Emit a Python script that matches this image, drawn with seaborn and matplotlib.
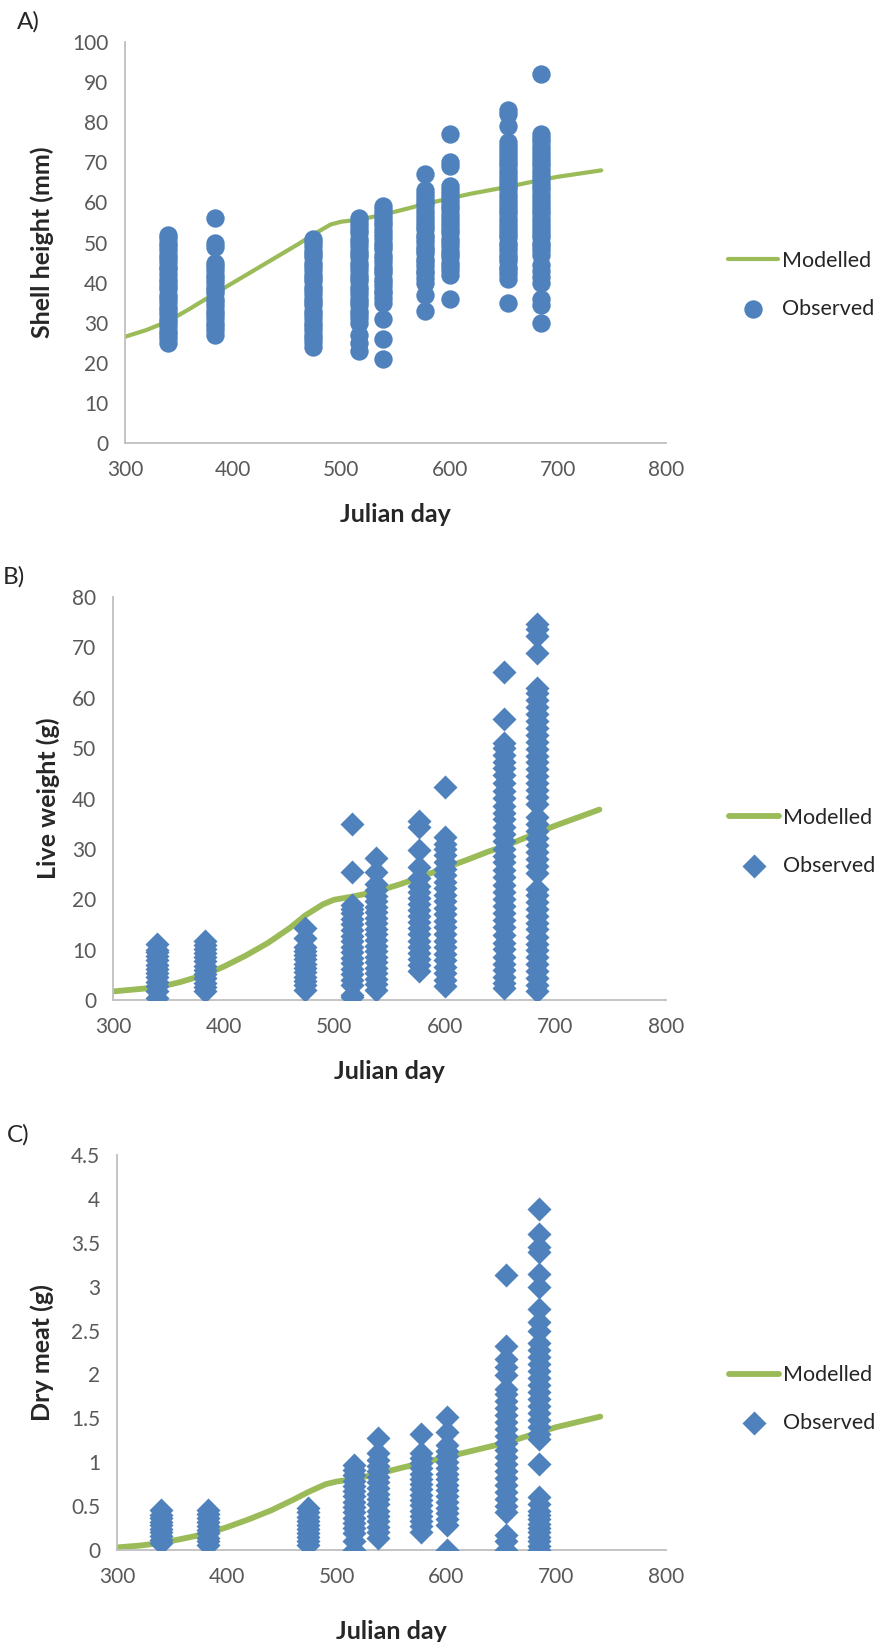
import numpy as np
import pandas as pd
import matplotlib
matplotlib.use('Agg')
import matplotlib.pyplot as plt
import seaborn as sns

sns.set_style('white')
plt.rcParams['font.family'] = ['Lato', 'DejaVu Sans']

BLUE = '#4F81BD'
GREEN = '#9BBB59'
GREY_TXT = '#595959'
GREY_AX = '#BFBFBF'

# modelled curves (Julian day -> value)
model_days = [300, 320, 340, 360, 383, 400, 420, 440, 460, 474, 490, 500, 516, 538,
              560, 577, 600, 620, 640, 654, 684, 700, 720, 740]
shell_model = [26.5, 28.2, 30.4, 33.5, 37.3, 40.0, 43.2, 46.4, 49.6, 52.0, 54.5, 55.2,
               55.7, 56.9, 58.4, 59.6, 61.0, 62.2, 63.2, 63.9, 65.6, 66.4, 67.2, 68.0]
live_model = [1.7, 2.1, 2.5, 3.5, 5.0, 6.6, 8.8, 11.3, 14.3, 16.8, 19.0, 19.9,
              20.5, 21.5, 23.0, 24.3, 26.2, 27.8, 29.5, 30.5, 33.2, 34.6, 36.2, 37.8]
dry_model = [0.03, 0.05, 0.08, 0.13, 0.19, 0.26, 0.35, 0.45, 0.57, 0.66, 0.75, 0.78,
             0.81, 0.87, 0.94, 0.99, 1.06, 1.12, 1.18, 1.22, 1.34, 1.40, 1.46, 1.52]

# observed values per sampling day
shell_obs = {
    340: [25.0, 26.1, 27.3, 28.0, 29.2, 30.1, 31.0, 32.2, 33.1, 34.0, 35.2, 36.1, 37.0, 38.3,
          39.1, 40.2, 41.0, 42.1, 43.3, 44.0, 45.2, 46.1, 47.0, 48.2, 49.1, 50.0, 51.2, 52.0],
    383: [27.0, 28.1, 29.3, 30.0, 31.2, 32.1, 33.0, 34.2, 35.1, 36.0, 37.3, 38.1, 39.0, 40.2,
          41.1, 42.0, 43.2, 44.1, 45.0, 49.0, 50.0, 56.0],
    474: [24.0, 25.1, 26.2, 27.0, 28.3, 29.1, 30.0, 31.2, 32.1, 33.0, 34.3, 35.1, 36.0, 37.2,
          38.1, 39.0, 40.3, 41.1, 42.0, 43.2, 44.1, 45.0, 46.3, 47.1, 48.0, 49.2, 50.1, 51.0],
    516: [23.0, 25.0, 27.0, 30.0, 31.2, 32.1, 33.0, 34.3, 35.1, 36.0, 37.2, 38.1, 39.0, 40.3,
          41.1, 42.0, 43.2, 44.1, 45.0, 46.3, 47.1, 48.0, 49.2, 50.1, 51.0, 52.3, 53.1, 54.0,
          55.2, 56.0],
    538: [21.0, 26.0, 31.0, 35.0, 36.1, 37.3, 38.0, 39.2, 40.1, 41.0, 42.3, 43.1, 44.0, 45.2,
          46.1, 47.0, 48.3, 49.1, 50.0, 51.2, 52.1, 53.0, 54.3, 55.1, 56.0, 57.2, 58.1, 59.0],
    577: [33.0, 37.0, 40.0, 41.1, 42.3, 43.0, 44.2, 45.1, 46.0, 47.3, 48.1, 49.0, 50.2, 51.1,
          52.0, 53.3, 54.1, 55.0, 56.2, 57.1, 58.0, 59.3, 60.1, 61.0, 62.2, 63.0, 67.0],
    600: [36.0, 42.0, 43.2, 44.1, 45.0, 46.3, 47.1, 48.0, 49.2, 50.1, 51.0, 52.3, 53.1, 54.0,
          55.2, 56.1, 57.0, 58.3, 59.1, 60.0, 61.2, 62.1, 63.0, 64.0, 69.0, 70.0, 77.0],
    654: [35.0, 41.0, 42.2, 43.1, 44.0, 45.3, 46.1, 47.0, 48.2, 49.1, 50.0, 51.3, 52.1, 53.0,
          54.2, 55.1, 56.0, 57.3, 58.1, 59.0, 60.2, 61.1, 62.0, 63.3, 64.1, 65.0, 66.2, 67.1,
          68.0, 69.3, 70.1, 71.0, 72.2, 73.1, 74.0, 75.0, 79.0, 82.0, 83.0],
    684: [30.0, 34.5, 36.0, 40.0, 41.5, 43.0, 44.5, 47.0, 48.2, 49.1, 50.0, 51.3, 52.1, 53.0,
          54.2, 55.1, 56.0, 57.3, 58.1, 59.0, 60.2, 61.1, 62.0, 63.3, 64.1, 65.0, 66.2, 67.1,
          68.0, 69.3, 70.1, 71.0, 72.2, 73.1, 74.0, 75.3, 76.1, 77.0, 92.0],
}

live_obs = {
    340: [0.3, 1.7, 2.8, 3.6, 4.5, 5.3, 6.2, 7.0, 7.9, 8.8, 9.6, 10.0, 11.2],
    383: [1.7, 2.5, 3.4, 4.3, 5.1, 6.0, 6.8, 7.7, 8.5, 9.4, 10.2, 11.0, 11.7],
    474: [2.0, 2.9, 3.8, 4.6, 5.5, 6.4, 7.2, 8.1, 9.0, 9.8, 10.6, 12.3, 14.2],
    516: [0.5, 1.0, 3.0, 4.0, 5.1, 6.2, 7.3, 8.4, 9.5, 10.6, 11.7, 12.8, 13.9, 15.0, 16.1,
          17.2, 18.0, 18.8, 25.4, 35.0],
    538: [2.0, 3.1, 4.2, 5.3, 6.4, 7.5, 8.6, 9.7, 10.8, 11.9, 13.0, 14.1, 15.2, 16.3, 17.4,
          18.5, 19.6, 20.7, 21.8, 23.0, 25.4, 28.1],
    577: [5.8, 7.0, 8.2, 9.4, 10.6, 11.8, 13.0, 14.2, 15.4, 16.6, 17.8, 19.0, 20.2, 21.4,
          22.6, 24.3, 26.4, 29.8, 34.3, 35.6],
    600: [2.7, 4.0, 5.3, 6.6, 7.9, 9.2, 10.5, 11.8, 13.1, 14.4, 15.7, 17.0, 18.3, 19.6, 20.9,
          22.2, 23.5, 24.8, 26.1, 27.4, 28.7, 30.0, 31.0, 32.4, 42.2],
    654: [2.4, 3.3, 4.5, 6.0, 7.2, 8.6, 10.1, 11.3, 12.9, 14.5, 15.8, 17.2, 18.6, 20.1, 21.5,
          22.9, 24.4, 25.8, 27.3, 28.6, 30.0, 31.5, 33.0, 34.4, 35.9, 37.2, 38.6, 40.1, 41.5,
          43.0, 44.6, 46.0, 47.3, 48.6, 50.0, 51.0, 55.7, 65.2],
    684: [1.7, 3.0, 4.4, 5.8, 7.1, 8.5, 9.9, 11.2, 12.6, 14.0, 15.3, 16.7, 18.0, 19.4, 20.8,
          22.1, 25.2, 26.6, 28.0, 29.4, 30.8, 32.1, 33.5, 34.9, 36.3, 38.9, 40.3, 41.7, 43.0,
          44.4, 45.8, 47.2, 48.5, 49.9, 51.3, 52.6, 54.0, 55.4, 56.8, 58.1, 59.5, 60.9, 62.0,
          68.9, 72.2, 73.7, 74.7],
}

dry_obs = {
    340: [0.08, 0.12, 0.16, 0.20, 0.24, 0.28, 0.32, 0.36, 0.40, 0.46],
    383: [0.06, 0.10, 0.14, 0.19, 0.23, 0.27, 0.32, 0.36, 0.41, 0.46],
    474: [0.06, 0.10, 0.15, 0.19, 0.24, 0.28, 0.33, 0.38, 0.43, 0.48],
    516: [0.0, 0.10, 0.19, 0.25, 0.31, 0.37, 0.43, 0.49, 0.55, 0.61, 0.67, 0.73, 0.79, 0.85,
          0.91, 0.97],
    538: [0.14, 0.20, 0.26, 0.33, 0.39, 0.45, 0.52, 0.58, 0.64, 0.71, 0.77, 0.83, 0.90, 0.96,
          1.02, 1.10, 1.28],
    577: [0.21, 0.27, 0.33, 0.39, 0.45, 0.51, 0.57, 0.63, 0.69, 0.75, 0.81, 0.87, 0.93, 0.99,
          1.05, 1.10, 1.32],
    600: [0.0, 0.29, 0.35, 0.42, 0.48, 0.55, 0.61, 0.68, 0.74, 0.81, 0.87, 0.94, 1.00, 1.07,
          1.13, 1.20, 1.35, 1.51],
    654: [0.0, 0.10, 0.17, 0.43, 0.50, 0.58, 0.66, 0.74, 0.82, 0.90, 0.98, 1.06, 1.14, 1.22,
          1.30, 1.38, 1.46, 1.54, 1.62, 1.70, 1.78, 1.84, 1.99, 2.09, 2.18, 2.32, 3.13],
    684: [0.0, 0.05, 0.10, 0.15, 0.20, 0.25, 0.30, 0.35, 0.40, 0.45, 0.52, 0.60, 0.98, 1.26,
          1.32, 1.40, 1.48, 1.56, 1.64, 1.72, 1.80, 1.88, 1.96, 2.04, 2.12, 2.20, 2.28, 2.36,
          2.50, 2.60, 2.75, 3.00, 3.15, 3.40, 3.45, 3.60, 3.88],
}


def to_long(obs):
    rows = [(d, v) for d, vals in obs.items() for v in vals]
    return pd.DataFrame(rows, columns=['day', 'value'])


def panel(ax, obs, model, marker, size, lw, ymax, ystep, ylabel, letter, ylab_x, xlab_y, leg_y):
    sns.lineplot(x=model_days, y=model, ax=ax, color=GREEN, linewidth=lw, label='Modelled')
    sns.scatterplot(data=to_long(obs), x='day', y='value', ax=ax, marker=marker, s=size,
                    color=BLUE, linewidth=0, label='Observed', zorder=3)
    ax.set_xlim(300, 800)
    ax.set_ylim(0, ymax)
    ax.set_xticks(np.arange(300, 801, 100))
    yt = np.arange(0, ymax + ystep / 2, ystep)
    ax.set_yticks(yt)
    ax.set_yticklabels([f'{t:g}' for t in yt])
    ax.tick_params(length=0, pad=12, labelsize=15, labelcolor=GREY_TXT)
    for s in ['top', 'right']:
        ax.spines[s].set_visible(False)
    for s in ['left', 'bottom']:
        ax.spines[s].set_color(GREY_AX)
        ax.spines[s].set_linewidth(1.3)
    ax.set_xlabel('Julian day', fontsize=18, fontweight='bold')
    ax.set_ylabel(ylabel, fontsize=18, fontweight='bold')
    ax.yaxis.set_label_coords(ylab_x, 0.5)
    ax.xaxis.set_label_coords(0.5, xlab_y)
    ax.legend(loc='center left', bbox_to_anchor=(1.115, leg_y), frameon=False, fontsize=15.5,
              handlelength=2.3, handletextpad=0.2, labelspacing=1.3, borderpad=0,
              borderaxespad=0)
    ax.text(-0.2, 1.05, letter, transform=ax.transAxes, fontsize=17.5, ha='left', va='center')


fig = plt.figure(figsize=(8.93, 16.42), dpi=100)
ax_a = fig.add_axes([0.140, 0.7302, 0.606, 0.2442])
ax_b = fig.add_axes([0.1265, 0.391, 0.619, 0.2454])
ax_c = fig.add_axes([0.131, 0.056, 0.615, 0.2406])

panel(ax_a, shell_obs, shell_model, 'o', 175, 3.0, 100, 10, 'Shell height (mm)', 'A)',
      -0.131, -0.15, 0.394)
panel(ax_b, live_obs, live_model, 'D', 150, 4.2, 80, 10, 'Live weight (g)', 'B)',
      -0.095, -0.15, 0.392)
panel(ax_c, dry_obs, dry_model, 'D', 150, 4.2, 4.5, 0.5, 'Dry meat (g)', 'C)',
      -0.115, -0.178, 0.382)

fig.savefig('out.png', dpi=100)
